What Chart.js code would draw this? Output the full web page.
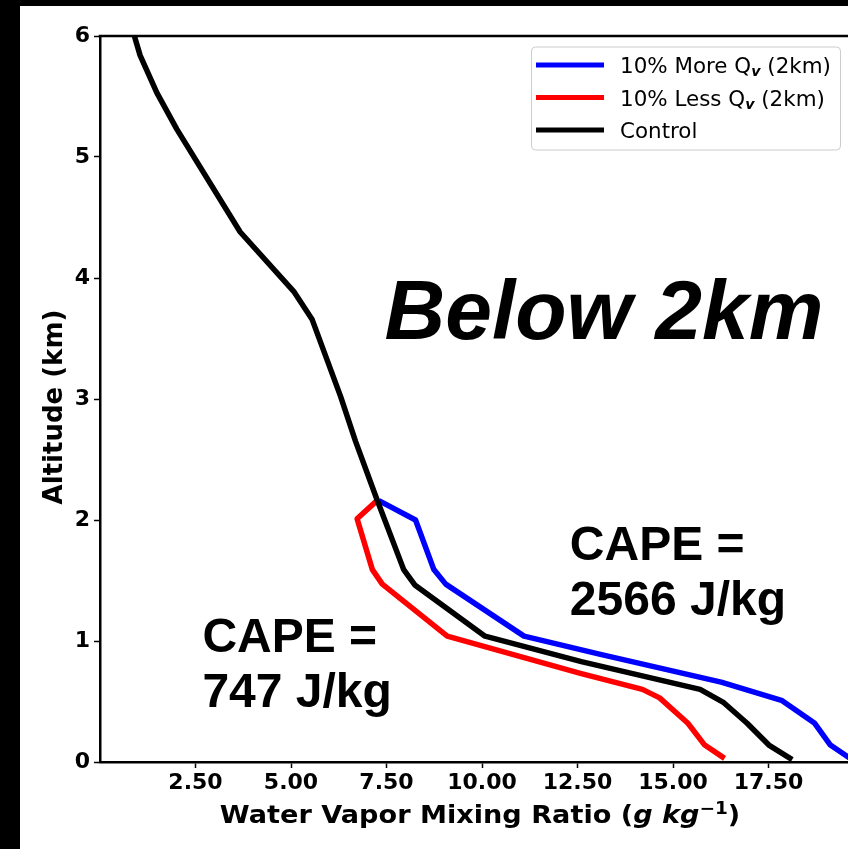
<!DOCTYPE html>
<html>
<head>
<meta charset="utf-8">
<title>Water vapor mixing ratio profiles</title>
<script src="https://cdn.jsdelivr.net/npm/chart.js@4.4.1/dist/chart.umd.min.js"></script>
<style>
  html, body { margin: 0; padding: 0; background: #000; overflow: hidden; }
  #wrap { position: absolute; left: 20px; top: 6px; width: 848px; height: 843px; background: #fff; }
</style>
</head>
<body>
<div id="wrap"><canvas id="profileChart" width="848" height="843"></canvas></div>
<script>
// Mixing ratio (g/kg) against altitude (km), listed from the surface upward
const controlQv = [18.12, 17.51, 16.94, 16.33, 15.71, 12.6, 10.08, 8.25, 7.95, 7.25, 6.69, 6.30, 5.55, 5.07, 3.67, 2.01, 1.49, 1.05, 0.90];
const controlZ  = [0.02, 0.14, 0.32, 0.49, 0.60, 0.83, 1.04, 1.46, 1.59, 2.17, 2.65, 3.02, 3.66, 3.89, 4.38, 5.23, 5.53, 5.84, 6.00];

const moreQv = [19.68, 19.12, 18.71, 17.84, 16.26, 13.1, 11.1, 9.05, 8.74, 8.26, 7.30];
const moreZ  = [0.02, 0.14, 0.32, 0.51, 0.66, 0.89, 1.04, 1.47, 1.59, 2.00, 2.16];

const lessQv = [16.35, 15.83, 15.39, 14.65, 14.20, 12.6, 9.09, 7.39, 7.13, 6.73, 7.25];
const lessZ  = [0.03, 0.14, 0.32, 0.53, 0.60, 0.73, 1.04, 1.47, 1.59, 2.01, 2.16];

const xTickValues = [2.5, 5, 7.5, 10, 12.5, 15, 17.5];
const yTickValues = [0, 1, 2, 3, 4, 5, 6];

const seriesNames  = ['10% More Q', '10% Less Q', 'Control'];
const seriesColors = ['#0000ff', '#ff0000', '#000000'];

const capeHigh = 2566;
const capeLow = 747;

const TICK_FONT = { family: 'DejaVu Sans', size: 22, weight: 'bold' };

function toPoints(xs, zs) {
  return xs.map((x, i) => ({ x: x, y: zs[i] }));
}

// Draw a row of text pieces with their own fonts and baseline shifts,
// optionally stretched horizontally by sx
function drawRuns(ctx, runs, x, y, align, sx) {
  sx = sx || 1;
  let total = 0;
  runs.forEach(r => { ctx.font = r.font; r.w = ctx.measureText(r.text).width; total += r.w; });
  ctx.save();
  ctx.translate(x, y);
  ctx.scale(sx, 1);
  let cx = align === 'center' ? -total / 2 : 0;
  ctx.textAlign = 'left';
  ctx.textBaseline = 'alphabetic';
  runs.forEach(r => {
    ctx.font = r.font;
    ctx.fillText(r.text, cx, r.dy || 0);
    cx += r.w;
  });
  ctx.restore();
}

const overlayPlugin = {
  id: 'overlay',
  afterDatasetsDraw(chart) {
    const ctx = chart.ctx;
    const area = chart.chartArea;
    const xs = chart.scales.x;
    const ys = chart.scales.y;
    ctx.save();

    // top and right spines
    ctx.strokeStyle = '#000';
    ctx.lineWidth = 2.5;
    ctx.beginPath();
    ctx.moveTo(area.left - 1.25, area.top);
    ctx.lineTo(area.right + 1.25, area.top);
    ctx.stroke();
    ctx.beginPath();
    ctx.moveTo(area.right, area.top);
    ctx.lineTo(area.right, area.bottom);
    ctx.stroke();

    ctx.fillStyle = '#000';
    ctx.textAlign = 'left';
    ctx.textBaseline = 'alphabetic';

    ctx.font = 'italic bold 84px "Liberation Sans"';
    ctx.fillText('Below 2km', xs.getPixelForValue(7.45), ys.getPixelForValue(3.5));

    ctx.font = 'bold 48px "Liberation Sans"';
    let px = xs.getPixelForValue(12.3), py = ys.getPixelForValue(1.67);
    ctx.fillText('CAPE =', px, py);
    ctx.fillText(capeHigh + ' J/kg', px, py + 55);

    px = xs.getPixelForValue(2.68); py = ys.getPixelForValue(0.91);
    ctx.fillText('CAPE =', px, py);
    ctx.fillText(capeLow + ' J/kg', px, py + 55);

    ctx.restore();
  },
  afterDraw(chart) {
    const ctx = chart.ctx;
    const area = chart.chartArea;
    ctx.save();

    // legend box in the upper right corner
    const bx = area.right - 333, by = area.top + 10.5, bw = 309, bh = 103;
    ctx.fillStyle = 'rgba(255,255,255,0.85)';
    ctx.strokeStyle = '#cccccc';
    ctx.lineWidth = 1;
    ctx.beginPath();
    ctx.roundRect(bx + 0.5, by + 0.5, bw, bh, 4);
    ctx.fill();
    ctx.stroke();

    seriesNames.forEach((name, i) => {
      const ly = by + 18.5 + i * 32.5;
      ctx.strokeStyle = seriesColors[i];
      ctx.lineWidth = 5;
      ctx.beginPath();
      ctx.moveTo(bx + 5, ly);
      ctx.lineTo(bx + 73, ly);
      ctx.stroke();
      ctx.fillStyle = '#000';
      const runs = [{ text: name, font: '21px "DejaVu Sans"' }];
      if (i < 2) {
        runs.push({ text: 'v', font: 'italic bold 14px "DejaVu Sans"', dy: 3 });
        runs.push({ text: ' (2km)', font: '21px "DejaVu Sans"' });
      }
      drawRuns(ctx, runs, bx + 89, ly + 8, 'left', 1.02);
    });

    // axis titles
    ctx.fillStyle = '#000';
    drawRuns(ctx, [
      { text: 'Water Vapor Mixing Ratio (', font: 'bold 25px "DejaVu Sans"' },
      { text: 'g kg', font: 'italic bold 25px "DejaVu Sans"' },
      { text: '\u22121', font: 'bold 17px "DejaVu Sans"', dy: -9 },
      { text: ')', font: 'bold 25px "DejaVu Sans"' }
    ], (area.left + area.right) / 2 - 2, 817, 'center', 1.085);

    ctx.translate(42, (area.top + area.bottom) / 2 + 8);
    ctx.rotate(-Math.PI / 2);
    ctx.font = 'bold 26px "DejaVu Sans"';
    ctx.textAlign = 'center';
    ctx.textBaseline = 'alphabetic';
    ctx.fillText('Altitude (km)', 0, 0);

    ctx.restore();
  }
};

const ctx = document.getElementById('profileChart').getContext('2d');
const profileChart = new Chart(ctx, {
  type: 'line',
  data: {
    datasets: [
      { label: seriesNames[0], data: toPoints(moreQv, moreZ), borderColor: seriesColors[0], order: 2 },
      { label: seriesNames[1], data: toPoints(lessQv, lessZ), borderColor: seriesColors[1], order: 1 },
      { label: seriesNames[2], data: toPoints(controlQv, controlZ), borderColor: seriesColors[2], order: 0 }
    ]
  },
  options: {
    responsive: false,
    animation: false,
    events: [],
    layout: { padding: { top: 30, right: 4, left: 0, bottom: 0 } },
    elements: {
      line: { borderWidth: 5.5, tension: 0, fill: false, borderCapStyle: 'butt', borderJoinStyle: 'round' },
      point: { radius: 0 }
    },
    plugins: {
      legend: { display: false },
      tooltip: { enabled: false }
    },
    scales: {
      x: {
        type: 'linear',
        min: 0,
        max: 20,
        afterFit: s => { s.height = 87; },
        afterBuildTicks: s => { s.ticks = xTickValues.map(v => ({ value: v })); },
        grid: { drawOnChartArea: false, drawTicks: true, tickLength: 6, tickWidth: 1.5, tickColor: '#000' },
        border: { display: true, color: '#000', width: 2.5 },
        ticks: {
          color: '#000',
          font: TICK_FONT,
          padding: 2,
          maxRotation: 0,
          autoSkip: false,
          callback: v => Number(v).toFixed(2)
        }
      },
      y: {
        type: 'linear',
        min: 0,
        max: 6,
        afterFit: s => { s.width = 80; },
        afterBuildTicks: s => { s.ticks = yTickValues.map(v => ({ value: v })); },
        grid: { drawOnChartArea: false, drawTicks: true, tickLength: 6, tickWidth: 1.5, tickColor: '#000' },
        border: { display: true, color: '#000', width: 2.5 },
        ticks: {
          color: '#000',
          font: TICK_FONT,
          padding: 4,
          autoSkip: false,
          callback: v => String(v)
        }
      }
    }
  },
  plugins: [overlayPlugin]
});
</script>
</body>
</html>
